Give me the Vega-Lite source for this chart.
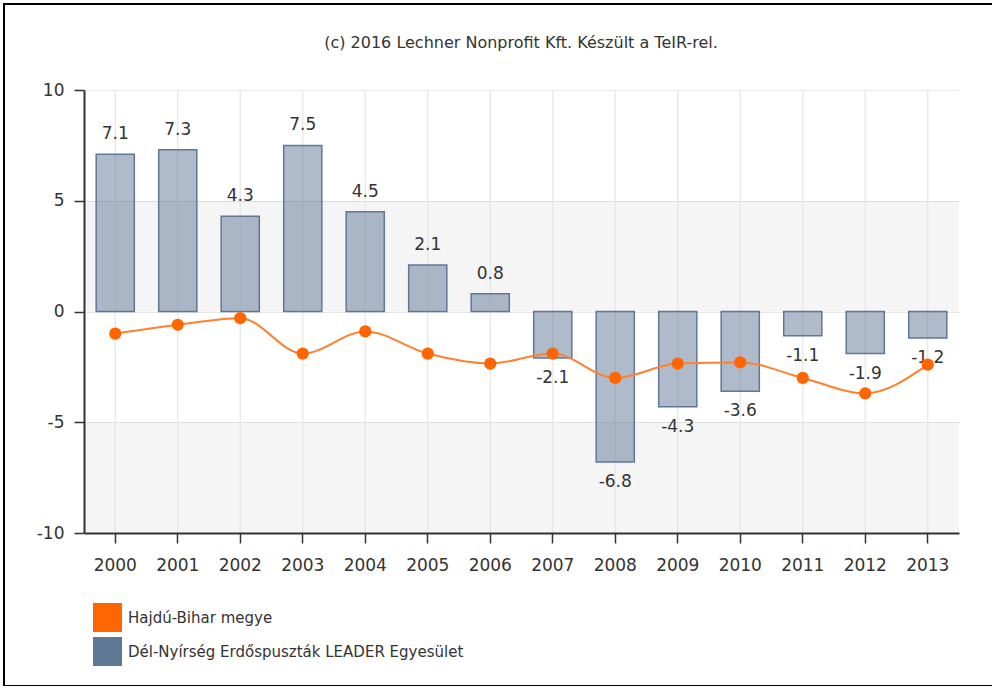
{
  "$schema": "https://vega.github.io/schema/vega-lite/v6.json",
  "width": 1000,
  "height": 682,
  "autosize": {"type": "none"},
  "padding": {"left": 4, "top": 4, "right": 0, "bottom": 0},
  "background": "white",
  "config": {
    "font": "DejaVu Sans",
    "view": {"stroke": "#000000", "strokeWidth": 2, "fill": "white"},
    "axis": {
      "labelColor": "#333333",
      "labelFontSize": 17,
      "domainColor": "#333333",
      "domainWidth": 1.5,
      "tickColor": "#333333",
      "tickWidth": 1.5,
      "tickSize": 10,
      "gridColor": "#e6e6e6",
      "gridWidth": 1.2,
      "title": null
    }
  },
  "title": {
    "text": "(c) 2016 Lechner Nonprofit Kft. Készült a TeIR-rel.",
    "fontSize": 16,
    "fontWeight": "normal",
    "color": "#333333",
    "anchor": "middle",
    "offset": -47,
    "dx": 17
  },
  "datasets": {
    "bars": [
      {"year": "2000", "series": "Dél-Nyírség Erdőspuszták LEADER Egyesület", "value": 7.1},
      {"year": "2001", "series": "Dél-Nyírség Erdőspuszták LEADER Egyesület", "value": 7.3},
      {"year": "2002", "series": "Dél-Nyírség Erdőspuszták LEADER Egyesület", "value": 4.3},
      {"year": "2003", "series": "Dél-Nyírség Erdőspuszták LEADER Egyesület", "value": 7.5},
      {"year": "2004", "series": "Dél-Nyírség Erdőspuszták LEADER Egyesület", "value": 4.5},
      {"year": "2005", "series": "Dél-Nyírség Erdőspuszták LEADER Egyesület", "value": 2.1},
      {"year": "2006", "series": "Dél-Nyírség Erdőspuszták LEADER Egyesület", "value": 0.8},
      {"year": "2007", "series": "Dél-Nyírség Erdőspuszták LEADER Egyesület", "value": -2.1},
      {"year": "2008", "series": "Dél-Nyírség Erdőspuszták LEADER Egyesület", "value": -6.8},
      {"year": "2009", "series": "Dél-Nyírség Erdőspuszták LEADER Egyesület", "value": -4.3},
      {"year": "2010", "series": "Dél-Nyírség Erdőspuszták LEADER Egyesület", "value": -3.6},
      {"year": "2011", "series": "Dél-Nyírség Erdőspuszták LEADER Egyesület", "value": -1.1},
      {"year": "2012", "series": "Dél-Nyírség Erdőspuszták LEADER Egyesület", "value": -1.9},
      {"year": "2013", "series": "Dél-Nyírség Erdőspuszták LEADER Egyesület", "value": -1.2}
    ],
    "line": [
      {"year": "2000", "series": "Hajdú-Bihar megye", "value": -1.0},
      {"year": "2001", "series": "Hajdú-Bihar megye", "value": -0.6},
      {"year": "2002", "series": "Hajdú-Bihar megye", "value": -0.3},
      {"year": "2003", "series": "Hajdú-Bihar megye", "value": -1.9},
      {"year": "2004", "series": "Hajdú-Bihar megye", "value": -0.9},
      {"year": "2005", "series": "Hajdú-Bihar megye", "value": -1.9},
      {"year": "2006", "series": "Hajdú-Bihar megye", "value": -2.35},
      {"year": "2007", "series": "Hajdú-Bihar megye", "value": -1.9},
      {"year": "2008", "series": "Hajdú-Bihar megye", "value": -3.0},
      {"year": "2009", "series": "Hajdú-Bihar megye", "value": -2.35},
      {"year": "2010", "series": "Hajdú-Bihar megye", "value": -2.3},
      {"year": "2011", "series": "Hajdú-Bihar megye", "value": -3.0},
      {"year": "2012", "series": "Hajdú-Bihar megye", "value": -3.7},
      {"year": "2013", "series": "Hajdú-Bihar megye", "value": -2.4}
    ],
    "bands": [
      {"lo": 0, "hi": 5},
      {"lo": -10, "hi": -5}
    ]
  },
  "encoding": {
    "x": {
      "field": "year",
      "type": "nominal",
      "sort": null,
      "scale": {"domain": ["2000","2001","2002","2003","2004","2005","2006","2007","2008","2009","2010","2011","2012","2013"], "range": [80, 955], "paddingInner": 0.39, "paddingOuter": 0.195},
      "axis": {"labelAngle": 0, "grid": false, "offset": -153, "labelPadding": 14, "domainWidth": 2}
    },
    "y": {
      "field": "value",
      "type": "quantitative",
      "scale": {"domain": [-10, 10], "range": [529, 86], "nice": false, "zero": false},
      "axis": {"values": [-10, -5, 0, 5, 10], "offset": -80, "labelPadding": 10, "labelExpr": "'' + datum.value", "domainWidth": 2}
    }
  },
  "layer": [
    {
      "data": {"name": "bands"},
      "mark": {"type": "rect", "fill": "#000000", "opacity": 0.04},
      "encoding": {
        "x": {"datum": "2000", "bandPosition": -0.32},
        "x2": {"datum": "2013", "bandPosition": 1.32},
        "y": {"field": "lo", "type": "quantitative"},
        "y2": {"field": "hi"}
      }
    },
    {
      "data": {"name": "bars"},
      "mark": {"type": "rule", "color": "#e6e6e6", "strokeWidth": 1.2},
      "encoding": {
        "y": {"datum": -10},
        "y2": {"datum": 10}
      }
    },
    {
      "data": {"name": "bars"},
      "mark": {"type": "bar", "fillOpacity": 0.5, "stroke": "#5f7896", "strokeWidth": 1.5},
      "encoding": {
        "color": {
          "field": "series",
          "type": "nominal",
          "scale": {"domain": ["Hajdú-Bihar megye", "Dél-Nyírség Erdőspuszták LEADER Egyesület"], "range": ["#ff6600", "#5f7896"]},
          "legend": {
            "title": null,
            "orient": "none",
            "legendX": 89,
            "legendY": 599,
            "symbolType": "square",
            "symbolSize": 841,
            "symbolStrokeWidth": 0,
            "symbolOpacity": 1,
            "labelFontSize": 15,
            "labelColor": "#333333",
            "labelOffset": 6,
            "labelLimit": 0,
            "rowPadding": 5,
            "padding": 0
          }
        }
      }
    },
    {
      "data": {"name": "bars"},
      "transform": [{"filter": "datum.value >= 0"}],
      "mark": {"type": "text", "dy": -20, "fontSize": 17, "color": "#333333", "baseline": "middle"},
      "encoding": {"text": {"field": "value", "type": "nominal"}}
    },
    {
      "data": {"name": "bars"},
      "transform": [{"filter": "datum.value < 0"}],
      "mark": {"type": "text", "dy": 20, "fontSize": 17, "color": "#333333", "baseline": "middle"},
      "encoding": {"text": {"field": "value", "type": "nominal"}}
    },
    {
      "data": {"name": "line"},
      "mark": {"type": "line", "interpolate": "monotone", "strokeWidth": 2, "color": "#ff8030"},
      "encoding": {}
    },
    {
      "data": {"name": "line"},
      "mark": {"type": "circle", "size": 150, "opacity": 1, "color": "#ff6600"},
      "encoding": {}
    }
  ]
}
